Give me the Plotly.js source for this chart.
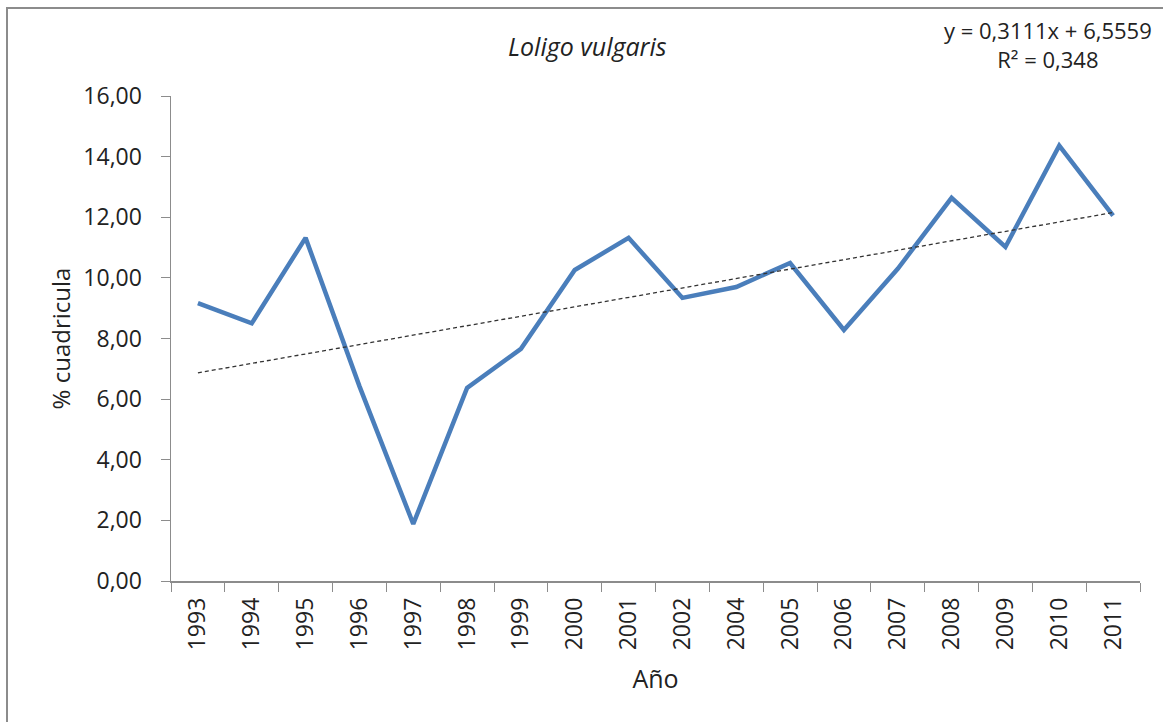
<!DOCTYPE html>
<html>
<head>
<meta charset="utf-8">
<script src="https://cdn.plot.ly/plotly-3.0.1.min.js"></script>
<style>
  html, body { margin: 0; padding: 0; background: #fff; }
  #chart { width: 1163px; height: 722px; }
  #frame { position: absolute; left: 6px; top: 7px; width: 1157px; height: 715px;
           border-left: 2px solid #8c8c8c; border-top: 2px solid #8c8c8c; pointer-events: none; }
</style>
</head>
<body>
<div id="chart"></div>
<div id="frame"></div>
<script>
// Data
const years = ["1993","1994","1995","1996","1997","1998","1999","2000","2001","2002","2004","2005","2006","2007","2008","2009","2010","2011"];
const values = [9.17, 8.50, 11.32, 6.43, 1.88, 6.37, 7.66, 10.26, 11.32, 9.34, 9.70, 10.49, 8.28, 10.30, 12.64, 11.02, 14.36, 12.05];
const yTicks = [0, 2, 4, 6, 8, 10, 12, 14, 16];
const yTickLabels = ["0,00","2,00","4,00","6,00","8,00","10,00","12,00","14,00","16,00"];
// Trendline coefficients as printed on the chart
const trendSlope = 0.3111;
const trendIntercept = 6.5559;
const trendR2 = "0,348";

const trendValues = years.map((_, i) => trendSlope * (i + 1) + trendIntercept);
const font = "Open Sans, Liberation Sans, sans-serif";

const traces = [
  { x: years, y: values, type: "scatter", mode: "lines",
    line: { color: "#4A7EBB", width: 4.5 }, hoverinfo: "x+y", showlegend: false },
  { x: years, y: trendValues, type: "scatter", mode: "lines",
    line: { color: "#333333", width: 1.3, dash: "4px,3px" }, hoverinfo: "skip", showlegend: false }
];

const layout = {
  width: 1163, height: 722,
  margin: { l: 171, r: 23, t: 96, b: 141 },
  paper_bgcolor: "#ffffff", plot_bgcolor: "#ffffff",
  font: { family: font, color: "#222", size: 23 },
  title: { text: "<i>Loligo vulgaris</i>", xref: "container", x: 0.505, xanchor: "center",
           yref: "container", y: 1 - 47/722, yanchor: "middle",
           font: { family: font, size: 25, color: "#222" } },
  xaxis: {
    type: "category", tickvals: years, ticktext: years, tickangle: -90,
    showline: true, linecolor: "#8c8c8c", linewidth: 1.5, showgrid: false, zeroline: false,
    ticks: "outside", ticklen: 9, tickcolor: "#8c8c8c", tickson: "boundaries",
    ticklabelstandoff: 6,
    tickfont: { family: font, size: 23, color: "#222" },
    range: [-0.5, years.length - 0.5],
    title: { text: "Año", font: { family: font, size: 25, color: "#222" }, standoff: 21 }
  },
  yaxis: {
    range: [0, 16], tickvals: yTicks, ticktext: yTickLabels,
    showline: true, linecolor: "#8c8c8c", linewidth: 1.5, showgrid: false, zeroline: false,
    ticks: "outside", ticklen: 9, tickcolor: "#8c8c8c",
    ticklabelstandoff: 14,
    tickfont: { family: font, size: 23, color: "#222" },
    title: { text: "% cuadricula", font: { family: font, size: 24, color: "#222" }, standoff: 6 }
  },
  annotations: [
    { xref: "paper", yref: "paper",
      x: (1048 - 171) / (1140 - 171), y: (581 - 45) / (581 - 96),
      xanchor: "center", yanchor: "middle", align: "center", showarrow: false,
      text: "y = 0,3111x + 6,5559<br>R² = " + trendR2,
      font: { family: font, size: 22, color: "#222" } }
  ]
};

Plotly.newPlot("chart", traces, layout, { displayModeBar: false, staticPlot: true });
</script>
</body>
</html>
